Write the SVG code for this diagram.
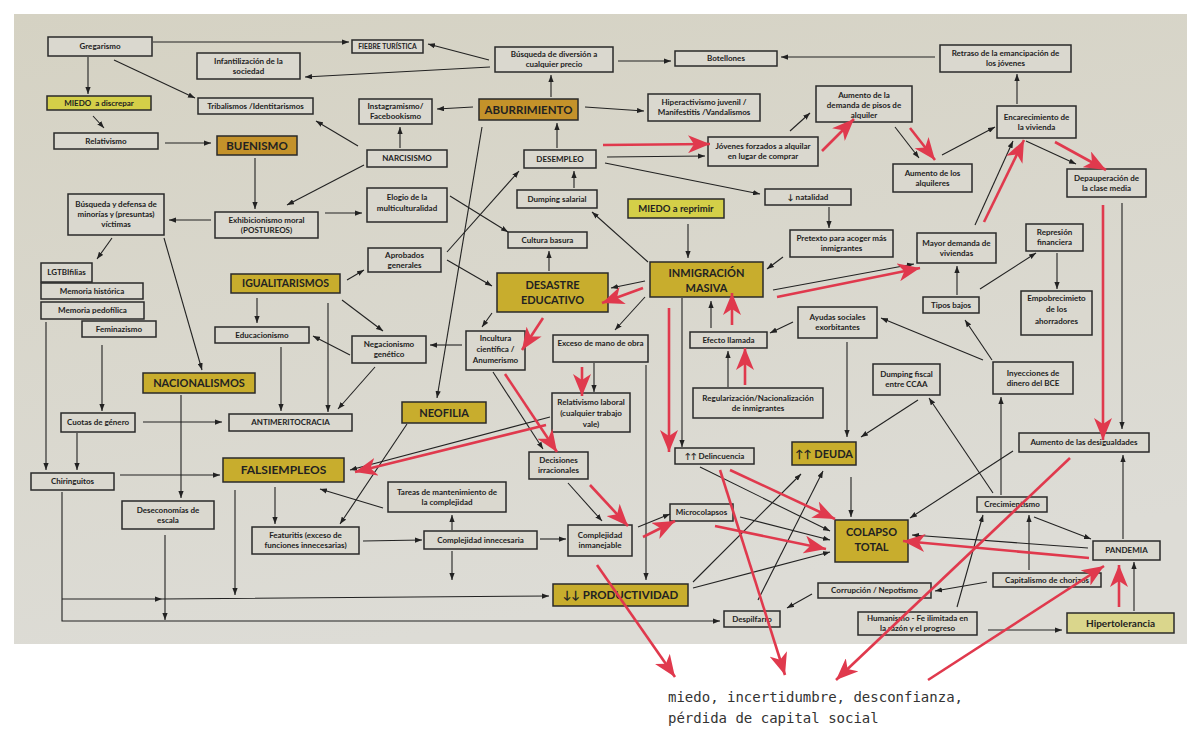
<svg xmlns="http://www.w3.org/2000/svg" width="1200" height="748" viewBox="0 0 1200 748">
<defs>
<linearGradient id="bg" x1="0" y1="0" x2="0.3" y2="1">
<stop offset="0" stop-color="#d5d2c3"/>
<stop offset="1" stop-color="#dddcd6"/>
</linearGradient>
<marker id="ab" viewBox="0 0 8 6" refX="8" refY="3" markerWidth="7" markerHeight="5.5" markerUnits="userSpaceOnUse" orient="auto"><path d="M0,0 L8,3 L0,6 z" fill="#222"/></marker>
<marker id="ar" viewBox="0 0 22 18" refX="22" refY="9" markerWidth="22" markerHeight="18" markerUnits="userSpaceOnUse" orient="auto"><path d="M0,0 L22,9 L0,18 L6,9 z" fill="#e0394d"/></marker>
</defs>
<style>
.b{fill:#dad8cf;stroke:#2a2a2a;stroke-width:1.5}
.y1{fill:#c4922a;stroke:#2a2a2a;stroke-width:1.5}
.y2{fill:#c8ad2d;stroke:#2a2a2a;stroke-width:1.5}
.y3{fill:#d4cf48;stroke:#2a2a2a;stroke-width:1.5}
.y4{fill:#dad68c;stroke:#2a2a2a;stroke-width:1.5}
text{font-family:Lato,"Liberation Sans",sans-serif;font-weight:bold;fill:#222;text-anchor:middle}
.t{font-size:8px}
.T{font-size:11.5px}
#connectors line,#connectors path{fill:none}
.k{stroke:#222;stroke-width:1.1;marker-end:url(#ab)}
.r{stroke:#e0394d;stroke-width:2.6;marker-end:url(#ar)}
.note{font-family:"DejaVu Sans Mono","Liberation Mono",monospace;font-weight:normal;font-size:14px;fill:#333;text-anchor:start}
</style>
<rect x="0" y="0" width="1200" height="748" fill="#ffffff"/>
<rect x="14" y="14" width="1173" height="630" fill="url(#bg)"/>

<g id="nodes">
<g id="gregarismo"><rect class="b" x="48" y="37" width="104" height="19"/><text class="t" x="100" y="49.3">Gregarismo</text></g>
<g id="fiebre"><rect class="b" x="352" y="40" width="71" height="13"/><text class="t" x="387.5" y="49" style="font-size:6.8px">FIEBRE TURÍSTICA</text></g>
<g id="infantilizacion"><rect class="b" x="197" y="53" width="103" height="26"/><text class="t" x="248.5" y="63.8">Infantilización de la</text><text class="t" x="248.5" y="73.8">sociedad</text></g>
<g id="busqueda-diversion"><rect class="b" x="495" y="47" width="118" height="25"/><text class="t" x="554" y="57.3">Búsqueda de diversión a</text><text class="t" x="554" y="67.3">cualquier precio</text></g>
<g id="botellones"><rect class="b" x="675" y="51" width="102" height="15"/><text class="t" x="726" y="61.3">Botellones</text></g>
<g id="retraso"><rect class="b" x="940" y="45" width="131" height="27"/><text class="t" x="1005.5" y="56.3">Retraso de la emancipación de</text><text class="t" x="1005.5" y="66.3">los jóvenes</text></g>
<g id="miedo-discrepar"><rect class="y3" x="47" y="96" width="104" height="14"/><text class="t" x="99" y="105.8" xml:space="preserve">MIEDO  a discrepar</text></g>
<g id="tribalismos"><rect class="b" x="198" y="98" width="115" height="16"/><text class="t" x="255.5" y="108.8">Tribalismos /Identitarismos</text></g>
<g id="instagramismo"><rect class="b" x="359" y="99" width="73" height="25"/><text class="t" x="395.5" y="109.3">Instagramismo/</text><text class="t" x="395.5" y="119.3">Facebookismo</text></g>
<g id="aburrimiento"><rect class="y1" x="479" y="99" width="99" height="21"/><text class="T" x="528.5" y="113.5">ABURRIMIENTO</text></g>
<g id="hiperactivismo"><rect class="b" x="648" y="94" width="112" height="27"/><text class="t" x="704" y="105.3">Hiperactivismo juvenil /</text><text class="t" x="704" y="115.3">Manifestitis /Vandalismos</text></g>
<g id="aumento-demanda"><rect class="b" x="816" y="86" width="96" height="36"/><text class="t" x="864" y="97.5">Aumento de la</text><text class="t" x="864" y="107.8">demanda de pisos de</text><text class="t" x="864" y="118.3">alquiler</text></g>
<g id="encarecimiento"><rect class="b" x="997" y="106" width="79" height="32"/><text class="t" x="1036.5" y="119.8">Encarecimiento de</text><text class="t" x="1036.5" y="129.8">la vivienda</text></g>
<g id="relativismo"><rect class="b" x="54" y="133" width="104" height="16"/><text class="t" x="106" y="143.8">Relativismo</text></g>
<g id="buenismo"><rect class="y1" x="217" y="136" width="80" height="19"/><text class="T" x="257" y="149.5">BUENISMO</text></g>
<g id="narcisismo"><rect class="b" x="367" y="150" width="80" height="17"/><text class="t" x="407" y="161.3">NARCISISMO</text></g>
<g id="desempleo"><rect class="b" x="524" y="150" width="72" height="18"/><text class="t" x="560" y="161.8">DESEMPLEO</text></g>
<g id="jovenes"><rect class="b" x="708" y="137" width="110" height="29"/><text class="t" x="763" y="149.3">Jóvenes forzados a alquilar</text><text class="t" x="763" y="159.3">en lugar de comprar</text></g>
<g id="aumento-alquileres"><rect class="b" x="893" y="164" width="79" height="28"/><text class="t" x="932.5" y="175.8">Aumento de los</text><text class="t" x="932.5" y="185.8">alquileres</text></g>
<g id="depauperacion"><rect class="b" x="1067" y="169" width="79" height="28"/><text class="t" x="1106.5" y="180.8">Depauperación de</text><text class="t" x="1106.5" y="190.8">la clase media</text></g>
<g id="minorias"><rect class="b" x="68" y="194" width="96" height="41"/><text class="t" x="116" y="207.3">Búsqueda y defensa de</text><text class="t" x="116" y="217.3">minorías y (presuntas)</text><text class="t" x="116" y="227.3">víctimas</text></g>
<g id="exhibicionismo"><rect class="b" x="215" y="212" width="103" height="26"/><text class="t" x="266.5" y="222.8">Exhibicionismo moral</text><text class="t" x="266.5" y="232.8">(POSTUREOS)</text></g>
<g id="elogio"><rect class="b" x="367" y="188" width="80" height="34"/><text class="t" x="407" y="200.3">Elogio de la</text><text class="t" x="407" y="211.3">multiculturalidad</text></g>
<g id="dumping-salarial"><rect class="b" x="517" y="190" width="80" height="18"/><text class="t" x="557" y="201.8">Dumping salarial</text></g>
<g id="natalidad"><rect class="b" x="765" y="189" width="86" height="16"/><text class="t" x="808" y="199.8">↓ natalidad</text></g>
<g id="miedo-reprimir"><rect class="y3" x="628" y="199" width="96" height="19"/><text x="676" y="211.8" style="font-size:9.5px">MIEDO a reprimir</text></g>
<g id="cultura-basura"><rect class="b" x="508" y="232" width="79" height="16"/><text class="t" x="547.5" y="242.8">Cultura basura</text></g>
<g id="pretexto"><rect class="b" x="790" y="230" width="103" height="27"/><text class="t" x="841.5" y="241.3">Pretexto para acoger más</text><text class="t" x="841.5" y="251.3">inmigrantes</text></g>
<g id="mayor-demanda"><rect class="b" x="917" y="233" width="79" height="30"/><text class="t" x="956.5" y="245.8">Mayor demanda de</text><text class="t" x="956.5" y="255.8">viviendas</text></g>
<g id="represion"><rect class="b" x="1026" y="224" width="57" height="27"/><text class="t" x="1054.5" y="235.3">Represión</text><text class="t" x="1054.5" y="245.3">financiera</text></g>
<g id="aprobados"><rect class="b" x="368" y="248" width="73" height="24"/><text class="t" x="404.5" y="257.8">Aprobados</text><text class="t" x="404.5" y="267.8">generales</text></g>
<g id="igualitarismos"><rect class="y2" x="231" y="274" width="109" height="19"/><text x="285.5" y="287.3" style="font-size:10.5px">IGUALITARISMOS</text></g>
<g id="desastre"><rect class="y2" x="497" y="273" width="111" height="39"/><text x="552.5" y="288.5" style="font-size:11px">DESASTRE</text><text x="552.5" y="303.5" style="font-size:11px">EDUCATIVO</text></g>
<g id="inmigracion"><rect class="y2" x="650" y="262" width="113" height="35"/><text x="706.5" y="276.5" style="font-size:11px">INMIGRACIÓN</text><text x="706.5" y="291.5" style="font-size:11px">MASIVA</text></g>
<g id="tipos-bajos"><rect class="b" x="923" y="297" width="56" height="16"/><text class="t" x="951" y="307.8">Tipos bajos</text></g>
<g id="empobrecimiento"><rect class="b" x="1021" y="291" width="71" height="44"/><text class="t" x="1056.5" y="300.8">Empobrecimieto</text><text class="t" x="1056.5" y="312.3">de los</text><text class="t" x="1056.5" y="323.8">ahorradores</text></g>
<g id="lgtbi"><rect class="b" x="41" y="263" width="51" height="19"/><text class="t" x="66.5" y="275.3">LGTBIfilias</text></g>
<g id="memoria-historica"><rect class="b" x="41" y="283" width="102" height="16"/><text class="t" x="92" y="293.8">Memoria histórica</text></g>
<g id="memoria-pedofilica"><rect class="b" x="41" y="302" width="103" height="17"/><text class="t" x="92.5" y="313.3">Memoria pedofílica</text></g>
<g id="feminazismo"><rect class="b" x="82" y="321" width="74" height="16"/><text class="t" x="119" y="331.8">Feminazismo</text></g>
<g id="educacionismo"><rect class="b" x="215" y="327" width="94" height="16"/><text class="t" x="262" y="337.8">Educacionismo</text></g>
<g id="negacionismo"><rect class="b" x="352" y="336" width="74" height="27"/><text class="t" x="389" y="347.3">Negacionismo</text><text class="t" x="389" y="357.3">genético</text></g>
<g id="incultura"><rect class="b" x="466" y="331" width="59" height="39"/><text class="t" x="495.5" y="341.3">Incultura</text><text class="t" x="495.5" y="352.3">científica /</text><text class="t" x="495.5" y="363.3">Anumerismo</text></g>
<g id="exceso"><rect class="b" x="553" y="335" width="95" height="27"/><text class="t" x="600.5" y="345.5">Exceso de mano de obra</text></g>
<g id="efecto-llamada"><rect class="b" x="690" y="332" width="77" height="16"/><text class="t" x="728.5" y="342.8">Efecto llamada</text></g>
<g id="ayudas"><rect class="b" x="798" y="307" width="79" height="31"/><text class="t" x="837.5" y="320.3">Ayudas sociales</text><text class="t" x="837.5" y="330.3">exorbitantes</text></g>
<g id="regularizacion"><rect class="b" x="693" y="388" width="130" height="30"/><text class="t" x="758" y="400.8">Regularización/Nacionalización</text><text class="t" x="758" y="410.8">de inmigrantes</text></g>
<g id="dumping-fiscal"><rect class="b" x="873" y="364" width="67" height="31"/><text class="t" x="906.5" y="377.3">Dumping fiscal</text><text class="t" x="906.5" y="387.3">entre CCAA</text></g>
<g id="inyecciones"><rect class="b" x="993" y="362" width="80" height="32"/><text class="t" x="1033" y="375.8">Inyecciones de</text><text class="t" x="1033" y="385.8">dinero del BCE</text></g>
<g id="nacionalismos"><rect class="y2" x="143" y="373" width="112" height="20"/><text x="199" y="387" style="font-size:11px">NACIONALISMOS</text></g>
<g id="cuotas"><rect class="b" x="61" y="413" width="74" height="19"/><text class="t" x="98" y="425.3">Cuotas de género</text></g>
<g id="antimeritocracia"><rect class="b" x="229" y="414" width="123" height="17"/><text class="t" x="290.5" y="425.3">ANTIMERITOCRACIA</text></g>
<g id="neofilia"><rect class="y2" x="402" y="402" width="84" height="21"/><text x="444" y="416.5" style="font-size:11px">NEOFILIA</text></g>
<g id="relativismo-laboral"><rect class="b" x="552" y="393" width="78" height="39"/><text class="t" x="591" y="404.8">Relativismo laboral</text><text class="t" x="591" y="415.8">(cualquier trabajo</text><text class="t" x="591" y="426.8">vale)</text></g>
<g id="delincuencia"><rect class="b" x="675" y="448" width="79" height="16"/><text class="t" x="714.5" y="458.8">↑↑ Delincuencia</text></g>
<g id="deuda"><rect class="y2" x="792" y="442" width="64" height="23"/><text x="824" y="457.5" style="font-size:11px">↑↑ DEUDA</text></g>
<g id="desigualdades"><rect class="b" x="1019" y="433" width="130" height="19"/><text class="t" x="1084" y="445.3">Aumento de las desigualdades</text></g>
<g id="chiringuitos"><rect class="b" x="31" y="473" width="83" height="17"/><text class="t" x="72.5" y="484.3">Chiringuitos</text></g>
<g id="falsiempleos"><rect class="y2" x="223" y="458" width="121" height="24"/><text x="283.5" y="474.2" style="font-size:12px">FALSIEMPLEOS</text></g>
<g id="decisiones"><rect class="b" x="529" y="452" width="59" height="27"/><text class="t" x="558.5" y="463.3">Decisiones</text><text class="t" x="558.5" y="473.3">irracionales</text></g>
<g id="tareas"><rect class="b" x="388" y="482" width="118" height="30"/><text class="t" x="447" y="494.8">Tareas de mantenimiento de</text><text class="t" x="447" y="504.8">la complejidad</text></g>
<g id="deseconomias"><rect class="b" x="122" y="501" width="92" height="28"/><text class="t" x="168" y="512.8">Deseconomías de</text><text class="t" x="168" y="522.8">escala</text></g>
<g id="featuritis"><rect class="b" x="252" y="527" width="107" height="27"/><text class="t" x="305.5" y="538.3">Featuritis (exceso de</text><text class="t" x="305.5" y="548.3">funciones innecesarias)</text></g>
<g id="complejidad-innecesaria"><rect class="b" x="424" y="531" width="113" height="18"/><text class="t" x="480.5" y="542.8">Complejidad innecesaria</text></g>
<g id="complejidad-inmanejable"><rect class="b" x="568" y="525" width="64" height="31"/><text class="t" x="600" y="538.3">Complejidad</text><text class="t" x="600" y="548.3">inmanejable</text></g>
<g id="microcolapsos"><rect class="b" x="670" y="504" width="63" height="17"/><text class="t" x="701.5" y="515.3">Microcolapsos</text></g>
<g id="colapso"><rect class="y2" x="835" y="520" width="73" height="42"/><text x="871.5" y="535.6" style="font-size:11px">COLAPSO</text><text x="871.5" y="550.6" style="font-size:11px">TOTAL</text></g>
<g id="crecimientismo"><rect class="b" x="977" y="497" width="70" height="15"/><text class="t" x="1012" y="507.3">Crecimientismo</text></g>
<g id="pandemia"><rect class="b" x="1093" y="541" width="67" height="19"/><text class="t" x="1126.5" y="553.3">PANDEMIA</text></g>
<g id="productividad"><rect class="y2" x="553" y="584" width="135" height="22"/><text x="620.5" y="599" style="font-size:11.5px">↓↓ PRODUCTIVIDAD</text></g>
<g id="corrupcion"><rect class="b" x="818" y="583" width="113" height="15"/><text class="t" x="874.5" y="593.3">Corrupción / Nepotismo</text></g>
<g id="capitalismo"><rect class="b" x="993" y="573" width="108" height="14"/><text class="t" x="1047" y="582.8">Capitalismo de chorizos</text></g>
<g id="despilfarro"><rect class="b" x="724" y="611" width="56" height="16"/><text class="t" x="752" y="621.8">Despilfarro</text></g>
<g id="humanismo"><rect class="b" x="858" y="612" width="119" height="23"/><text class="t" x="917.5" y="621.3">Humanismo - Fe ilimitada en</text><text class="t" x="917.5" y="631.3">la razón y el progreso</text></g>
<g id="hipertolerancia"><rect class="y4" x="1067" y="613" width="107" height="20"/><text x="1120.5" y="626.5" style="font-size:10px">Hipertolerancia</text></g>
<g id="nota"><text class="note" x="668" y="702">miedo, incertidumbre, desconfianza,</text><text class="note" x="668" y="723">pérdida de capital social</text></g>
</g>

<g id="connectors">
<line class="k" x1="153" y1="42" x2="349" y2="42"/>
<line class="k" x1="88" y1="57" x2="88" y2="94"/>
<line class="k" x1="114" y1="60" x2="195" y2="98"/>
<line class="k" x1="93" y1="116" x2="104" y2="128"/>
<line class="k" x1="165" y1="143" x2="211" y2="143"/>
<line class="k" x1="255" y1="158" x2="255" y2="209"/>
<line class="k" x1="364" y1="165" x2="287" y2="205"/>
<line class="k" x1="211" y1="220" x2="169" y2="220"/>
<line class="k" x1="400" y1="148" x2="400" y2="127"/>
<line class="k" x1="358" y1="146" x2="316" y2="121"/>
<line class="k" x1="473" y1="107" x2="437" y2="109"/>
<line class="k" x1="551" y1="97" x2="551" y2="75"/>
<line class="k" x1="557" y1="148" x2="557" y2="123"/>
<line class="k" x1="574" y1="188" x2="574" y2="171"/>
<line class="k" x1="489" y1="60" x2="428" y2="44"/>
<line class="k" x1="490" y1="67" x2="305" y2="77"/>
<line class="k" x1="618" y1="61" x2="671" y2="61"/>
<line class="k" x1="935" y1="57" x2="781" y2="57"/>
<line class="k" x1="585" y1="107" x2="644" y2="111"/>
<line class="k" x1="482" y1="127" x2="437" y2="398"/>
<line class="k" x1="607" y1="157" x2="705" y2="156"/>
<line class="k" x1="605" y1="163" x2="760" y2="194"/>
<line class="k" x1="790" y1="131" x2="810" y2="113"/>
<line class="k" x1="895" y1="127" x2="919" y2="158"/>
<line class="k" x1="942" y1="155" x2="995" y2="127"/>
<line class="k" x1="1017" y1="104" x2="1017" y2="74"/>
<line class="k" x1="1026" y1="141" x2="1076" y2="164"/>
<line class="k" x1="975" y1="225" x2="1013" y2="141"/>
<line class="k" x1="1122" y1="203" x2="1122" y2="429"/>
<line class="k" x1="829" y1="207" x2="829" y2="228"/>
<line class="k" x1="783" y1="257" x2="767" y2="269"/>
<line class="k" x1="688" y1="224" x2="688" y2="258"/>
<line class="k" x1="648" y1="262" x2="592" y2="212"/>
<line class="k" x1="645" y1="281" x2="611" y2="288"/>
<line class="k" x1="645" y1="297" x2="615" y2="330"/>
<line class="k" x1="773" y1="290" x2="914" y2="264"/>
<line class="k" x1="711" y1="328" x2="711" y2="301"/>
<line class="k" x1="728" y1="387" x2="728" y2="351"/>
<line class="k" x1="793" y1="322" x2="770" y2="333"/>
<line class="k" x1="847" y1="342" x2="847" y2="437"/>
<line class="k" x1="918" y1="400" x2="861" y2="437"/>
<line class="k" x1="992" y1="360" x2="965" y2="320"/>
<line class="k" x1="983" y1="360" x2="881" y2="318"/>
<line class="k" x1="957" y1="295" x2="957" y2="266"/>
<line class="k" x1="980" y1="289" x2="1036" y2="253"/>
<line class="k" x1="1057" y1="253" x2="1057" y2="289"/>
<line class="k" x1="1001" y1="495" x2="1001" y2="397"/>
<line class="k" x1="993" y1="493" x2="929" y2="398"/>
<line class="k" x1="1013" y1="451" x2="910" y2="518"/>
<line class="k" x1="1029" y1="570" x2="1029" y2="515"/>
<line class="k" x1="1034" y1="517" x2="1091" y2="539"/>
<line class="k" x1="1123" y1="539" x2="1123" y2="455"/>
<line class="k" x1="1088" y1="548" x2="912" y2="535"/>
<line class="k" x1="1134" y1="611" x2="1134" y2="562"/>
<line class="k" x1="988" y1="630" x2="1062" y2="630"/>
<line class="k" x1="957" y1="607" x2="983" y2="515"/>
<line class="k" x1="987" y1="582" x2="935" y2="591"/>
<line class="k" x1="812" y1="594" x2="787" y2="608"/>
<line class="k" x1="693" y1="582" x2="801" y2="474"/>
<line class="k" x1="758" y1="600" x2="823" y2="471"/>
<line class="k" x1="693" y1="588" x2="830" y2="552"/>
<line class="k" x1="700" y1="467" x2="830" y2="531"/>
<line class="k" x1="740" y1="517" x2="830" y2="540"/>
<line class="k" x1="638" y1="527" x2="670" y2="514"/>
<line class="k" x1="851" y1="477" x2="851" y2="517"/>
<line class="k" x1="646" y1="365" x2="646" y2="580"/>
<line class="k" x1="682" y1="298" x2="682" y2="447"/>
<line class="k" x1="594" y1="363" x2="594" y2="392"/>
<line class="k" x1="550" y1="417" x2="350" y2="470"/>
<line class="k" x1="493" y1="372" x2="543" y2="449"/>
<line class="k" x1="492" y1="313" x2="482" y2="327"/>
<line class="k" x1="549" y1="271" x2="549" y2="251"/>
<line class="k" x1="450" y1="196" x2="508" y2="232"/>
<line class="k" x1="325" y1="213" x2="362" y2="213"/>
<line class="k" x1="447" y1="252" x2="519" y2="171"/>
<line class="k" x1="447" y1="260" x2="492" y2="286"/>
<line class="k" x1="347" y1="280" x2="364" y2="270"/>
<line class="k" x1="342" y1="300" x2="383" y2="331"/>
<line class="k" x1="257" y1="298" x2="257" y2="323"/>
<line class="k" x1="328" y1="303" x2="328" y2="412"/>
<line class="k" x1="281" y1="347" x2="281" y2="411"/>
<line class="k" x1="350" y1="355" x2="313" y2="336"/>
<line class="k" x1="375" y1="367" x2="338" y2="409"/>
<line class="k" x1="462" y1="345" x2="430" y2="345"/>
<line class="k" x1="143" y1="422" x2="222" y2="422"/>
<line class="k" x1="102" y1="345" x2="102" y2="411"/>
<line class="k" x1="112" y1="238" x2="97" y2="259"/>
<line class="k" x1="164" y1="238" x2="202" y2="370"/>
<line class="k" x1="46" y1="322" x2="46" y2="470"/>
<line class="k" x1="77" y1="433" x2="77" y2="470"/>
<line class="k" x1="120" y1="475" x2="220" y2="475"/>
<line class="k" x1="181" y1="395" x2="181" y2="498"/>
<line class="k" x1="165" y1="535" x2="165" y2="620"/>
<path class="k" d="M62,492 V621 H720"/>
<path class="k" d="M62,599 L162,599 L549,596" marker-mid="url(#ab)"/>
<line class="k" x1="235" y1="490" x2="235" y2="595"/>
<line class="k" x1="275" y1="487" x2="275" y2="524"/>
<line class="k" x1="407" y1="424" x2="340" y2="524"/>
<line class="k" x1="383" y1="508" x2="320" y2="489"/>
<line class="k" x1="452" y1="530" x2="452" y2="515"/>
<line class="k" x1="452" y1="551" x2="452" y2="580"/>
<line class="k" x1="363" y1="541" x2="422" y2="540"/>
<line class="k" x1="540" y1="539" x2="566" y2="539"/>
<line class="k" x1="568" y1="483" x2="602" y2="521"/>

<line class="r" x1="603" y1="145" x2="710" y2="144"/>
<line class="r" x1="822" y1="151" x2="854" y2="119"/>
<line class="r" x1="910" y1="128" x2="935" y2="160"/>
<line class="r" x1="984" y1="222" x2="1024" y2="140"/>
<line class="r" x1="1055" y1="142" x2="1106" y2="170"/>
<line class="r" x1="1103" y1="205" x2="1103" y2="440"/>
<line class="r" x1="643" y1="288" x2="602" y2="303"/>
<line class="r" x1="777" y1="297" x2="920" y2="268"/>
<line class="r" x1="732" y1="325" x2="732" y2="293"/>
<line class="r" x1="745" y1="385" x2="745" y2="348"/>
<line class="r" x1="669" y1="308" x2="669" y2="452"/>
<line class="r" x1="543" y1="318" x2="522" y2="350"/>
<line class="r" x1="582" y1="367" x2="582" y2="396"/>
<line class="r" x1="546" y1="425" x2="355" y2="472"/>
<line class="r" x1="505" y1="374" x2="557" y2="452"/>
<line class="r" x1="590" y1="485" x2="628" y2="526"/>
<line class="r" x1="643" y1="537" x2="675" y2="521"/>
<line class="r" x1="715" y1="526" x2="826" y2="549"/>
<line class="r" x1="730" y1="470" x2="835" y2="519"/>
<line class="r" x1="1089" y1="558" x2="903" y2="541"/>
<line class="r" x1="1119" y1="607" x2="1119" y2="565"/>
<line class="r" x1="597" y1="565" x2="675" y2="677"/>
<line class="r" x1="720" y1="470" x2="785" y2="675"/>
<line class="r" x1="1070" y1="458" x2="836" y2="680"/>
<line class="r" x1="928" y1="680" x2="1104" y2="566"/>
</g>
</svg>
